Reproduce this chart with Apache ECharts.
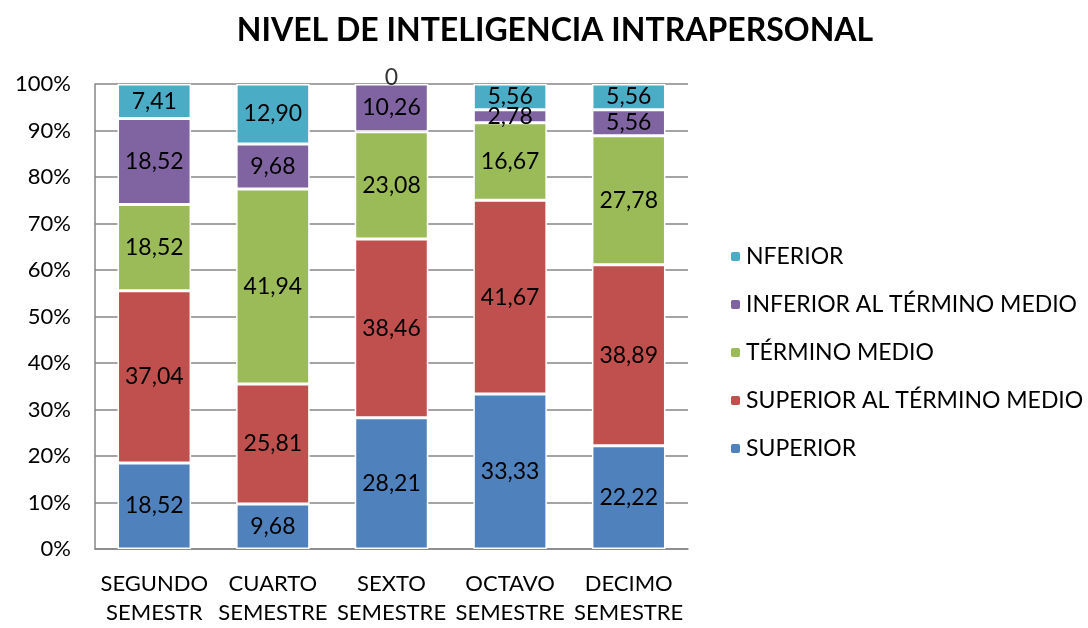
<!DOCTYPE html>
<html>
<head>
<meta charset="utf-8">
<script src="https://cdn.jsdelivr.net/npm/echarts@6/dist/echarts.min.js"></script>
<style>
  html, body { margin: 0; padding: 0; background: #fff; }
  #chart { width: 1088px; height: 628px; }
</style>
</head>
<body>
<div id="chart"></div>
<script>
// categorias del eje x
const semestres = ['SEGUNDO\nSEMESTR', 'CUARTO\nSEMESTRE', 'SEXTO\nSEMESTRE', 'OCTAVO\nSEMESTRE', 'DECIMO\nSEMESTRE'];

// porcentajes por nivel
const superior = [18.52, 9.68, 28.21, 33.33, 22.22];
const superiorMedio = [37.04, 25.81, 38.46, 41.67, 38.89];
const terminoMedio = [18.52, 41.94, 23.08, 16.67, 27.78];
const inferiorMedio = [18.52, 9.68, 10.26, 2.78, 5.56];
const nferior = [7.41, 12.90, 0, 5.56, 5.56];

const yTicks = [0, 10, 20, 30, 40, 50, 60, 70, 80, 90, 100];

const font = 'Lato, "Open Sans", sans-serif';

const niveles = [
  { name: 'SUPERIOR', data: superior, color: '#4F81BD' },
  { name: 'SUPERIOR AL TÉRMINO MEDIO', data: superiorMedio, color: '#C0504D' },
  { name: 'TÉRMINO MEDIO', data: terminoMedio, color: '#9BBB59' },
  { name: 'INFERIOR AL TÉRMINO MEDIO', data: inferiorMedio, color: '#8064A2' },
  { name: 'NFERIOR', data: nferior, color: '#4BACC6' }
];

const fmt = v => v === 0 ? '0' : v.toFixed(2).replace('.', ',');

// las barras de altura cero no muestran etiqueta, asi que se pone aparte
// encima de la pila correspondiente
const ceros = [];
niveles.forEach((n, s) => {
  n.data.forEach((v, i) => {
    if (v === 0) {
      let tope = 0;
      for (let k = 0; k <= s; k++) tope += niveles[k].data[i];
      ceros.push([i, Math.min(tope, 100)]);
    }
  });
});

const chart = echarts.init(document.getElementById('chart'));

const series = niveles.map(n => ({
  name: n.name,
  type: 'bar',
  stack: 'total',
  barWidth: '62%',
  data: n.data,
  itemStyle: { color: n.color, borderColor: '#fff', borderWidth: 1.5 },
  label: {
    show: true,
    position: 'inside',
    fontFamily: font,
    fontSize: 23,
    color: '#000',
    formatter: p => fmt(p.value)
  }
}));

series.push({
  name: 'ceros',
  type: 'scatter',
  symbolSize: 0,
  data: ceros,
  silent: true,
  label: {
    show: true,
    position: 'inside',
    offset: [0, -6],
    fontFamily: font,
    fontSize: 23,
    color: '#000',
    formatter: '0'
  }
});

chart.setOption({
  animation: false,
  title: {
    text: 'NIVEL DE INTELIGENCIA INTRAPERSONAL',
    left: 550,
    textAlign: 'center',
    top: 10,
    textStyle: { fontFamily: font, fontSize: 32, fontWeight: 'bold', color: '#000' }
  },
  legend: {
    orient: 'vertical',
    left: 724,
    top: 240,
    itemWidth: 11,
    itemHeight: 11,
    itemGap: 25,
    data: niveles.map(n => n.name).reverse(),
    textStyle: { fontFamily: font, fontSize: 23, color: '#000' }
  },
  grid: { left: 95, right: 400, top: 84, bottom: 79 },
  xAxis: {
    type: 'category',
    data: semestres,
    axisLine: { lineStyle: { color: '#868686', width: 1.5 } },
    axisTick: { show: false },
    axisLabel: { fontFamily: font, fontSize: 22, color: '#000', margin: 20, lineHeight: 29, interval: 0 }
  },
  yAxis: {
    type: 'value',
    min: yTicks[0],
    max: yTicks[yTicks.length - 1],
    interval: 10,
    axisLine: { show: true, lineStyle: { color: '#868686', width: 1.5 } },
    axisTick: { show: false },
    axisLabel: { fontFamily: font, fontSize: 22, color: '#000', margin: 24, formatter: v => v + '%' },
    splitLine: { lineStyle: { color: '#868686', width: 1.5 } }
  },
  series: series
});
</script>
</body>
</html>
